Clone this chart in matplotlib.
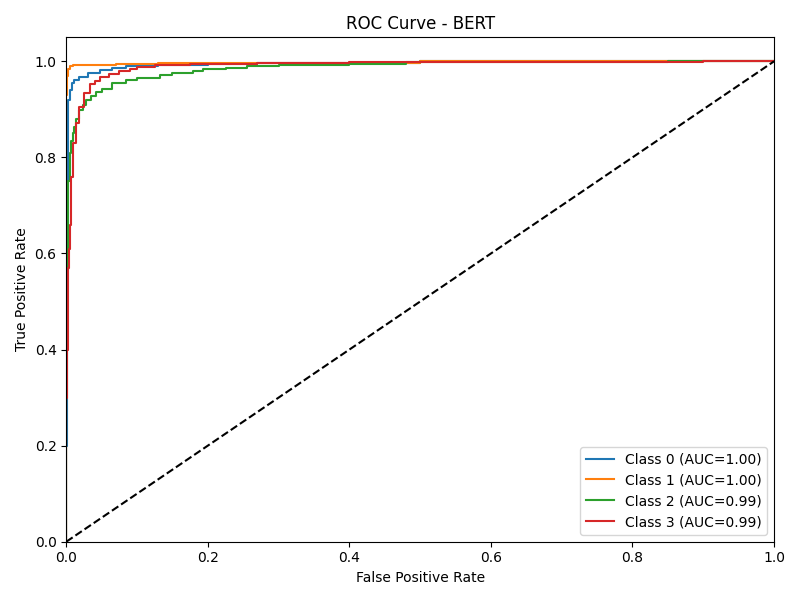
import numpy as np
import matplotlib
matplotlib.use('Agg')
import matplotlib.pyplot as plt

# points (fpr, tpr), left end of each step
fpr_0 = [0.0, 0.0, 0.001, 0.002, 0.003, 0.005, 0.008, 0.011, 0.018, 0.03, 0.047, 0.065, 0.085, 0.13, 0.2, 0.27, 0.5, 1.0]
tpr_0 = [0.0, 0.2, 0.75, 0.89, 0.92, 0.94, 0.955, 0.962, 0.967, 0.975, 0.983, 0.987, 0.99, 0.993, 0.995, 0.997, 1.0, 1.0]

fpr_1 = [0.0, 0.0, 0.001, 0.003, 0.005, 0.01, 0.07, 0.13, 0.5, 1.0]
tpr_1 = [0.0, 0.93, 0.97, 0.985, 0.99, 0.993, 0.995, 0.997, 1.0, 1.0]

fpr_2 = [0.0, 0.0, 0.001, 0.002, 0.003, 0.005, 0.0066, 0.009, 0.011, 0.014, 0.018, 0.023, 0.028, 0.035, 0.042, 0.05, 0.065, 0.085,
         0.1, 0.132, 0.15, 0.179, 0.193, 0.226, 0.255, 0.3, 0.4, 0.48, 0.85, 1.0]
tpr_2 = [0.0, 0.4, 0.565, 0.7, 0.75, 0.81, 0.835, 0.85, 0.863, 0.88, 0.898, 0.91, 0.919, 0.928, 0.936, 0.943, 0.955, 0.962,
         0.966, 0.972, 0.975, 0.98, 0.984, 0.987, 0.99, 0.993, 0.995, 0.998, 1.0, 1.0]

fpr_3 = [0.0, 0.0, 0.001, 0.002, 0.003, 0.004, 0.005, 0.006, 0.007, 0.009, 0.01, 0.014, 0.018, 0.025, 0.033, 0.04, 0.047,
         0.06, 0.075, 0.09, 0.1, 0.125, 0.175, 0.27, 0.4, 0.495, 0.9, 1.0]
tpr_3 = [0.0, 0.3, 0.4, 0.53, 0.57, 0.61, 0.66, 0.72, 0.76, 0.8, 0.83, 0.871, 0.905, 0.935, 0.953, 0.96, 0.967,
         0.974, 0.98, 0.984, 0.988, 0.992, 0.994, 0.997, 0.998, 0.999, 1.0, 1.0]

aucs = [1.00, 1.00, 0.99, 0.99]

curves = [(fpr_0, tpr_0), (fpr_1, tpr_1), (fpr_2, tpr_2), (fpr_3, tpr_3)]

fig, ax = plt.subplots(figsize=(8, 6), dpi=100)
for i, (fpr, tpr) in enumerate(curves):
    ax.plot(fpr, tpr, drawstyle='steps-post',
            label='Class {} (AUC={:.2f})'.format(i, aucs[i]))
ax.plot([0, 1], [0, 1], 'k--')

ax.set_xlim(0, 1)
ax.set_ylim(0, 1.05)
ax.set_xlabel('False Positive Rate')
ax.set_ylabel('True Positive Rate')
ax.set_title('ROC Curve - BERT')
ax.legend(loc='lower right')
plt.tight_layout()
plt.savefig('out.png', dpi=100)
